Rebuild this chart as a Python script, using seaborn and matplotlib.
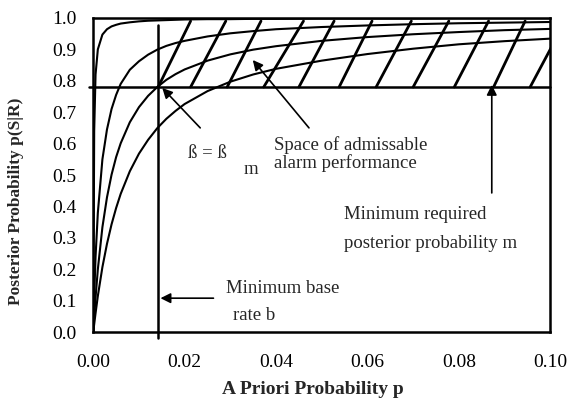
import matplotlib
matplotlib.use("Agg")
import matplotlib.pyplot as plt
import seaborn as sns
import pandas as pd

# ---- data ----
p_grid = [0.0, 0.0002, 0.0005, 0.001, 0.002, 0.003, 0.004, 0.005, 0.006, 0.008, 0.010,
          0.012, 0.014, 0.016, 0.018, 0.020, 0.025, 0.030, 0.035, 0.040,
          0.050, 0.060, 0.070, 0.080, 0.090, 0.100]
curve_1 = [0.0, 0.64, 0.82, 0.90, 0.947, 0.964, 0.973, 0.978, 0.982, 0.986, 0.989,
           0.991, 0.992, 0.993, 0.994, 0.995, 0.996, 0.996, 0.997, 0.997,
           0.998, 0.998, 0.998, 0.999, 0.999, 0.999]
curve_2 = [0.0, 0.11, 0.24, 0.38, 0.55, 0.645, 0.71, 0.755, 0.79, 0.835, 0.862,
           0.883, 0.899, 0.911, 0.920, 0.927, 0.941, 0.951, 0.958, 0.964,
           0.971, 0.976, 0.980, 0.983, 0.985, 0.987]
curve_3 = [0.0, 0.05, 0.11, 0.20, 0.334, 0.429, 0.501, 0.557, 0.601, 0.668, 0.716,
           0.752, 0.780, 0.803, 0.821, 0.836, 0.864, 0.884, 0.899, 0.910,
           0.927, 0.939, 0.948, 0.955, 0.961, 0.965]
curve_4 = [0.0, 0.025, 0.06, 0.115, 0.207, 0.281, 0.343, 0.395, 0.440, 0.512, 0.568,
           0.612, 0.649, 0.679, 0.704, 0.726, 0.767, 0.797, 0.820, 0.838,
           0.864, 0.885, 0.902, 0.916, 0.926, 0.934]

m_level = 0.78          # minimum required posterior probability
b_rate = 0.0142         # minimum base rate
hatch_bottom_p = [0.0142, 0.0213, 0.0293, 0.0373, 0.0450, 0.0538, 0.0619, 0.0700, 0.0790, 0.0876, 0.0956]
hatch_top_p = [0.0213, 0.0290, 0.0367, 0.0460, 0.0527, 0.0610, 0.0696, 0.0778, 0.0865, 0.0945, 0.1033]
hatch_top_v = 0.99

x_ticks = [0.00, 0.02, 0.04, 0.06, 0.08, 0.10]
x_tick_labels = ["0.00", "0.02", "0.04", "0.06", "0.08", "0.10"]
y_ticks = [0.0, 0.1, 0.2, 0.3, 0.4, 0.5, 0.6, 0.7, 0.8, 0.9, 1.0]
y_tick_labels = ["0.0", "0.1", "0.2", "0.3", "0.4", "0.5", "0.6", "0.7", "0.8", "0.9", "1.0"]

# ---- build long table ----
rows = []
for name, vals in [("c1", curve_1), ("c2", curve_2), ("c3", curve_3), ("c4", curve_4)]:
    for p, v in zip(p_grid, vals):
        rows.append({"p": p, "post": v, "curve": name})
df = pd.DataFrame(rows)

sns.set_theme(style="white")
plt.rcParams["font.family"] = ["Liberation Serif", "DejaVu Serif"]

fig = plt.figure(figsize=(5.67, 4.07), dpi=100)
ax = fig.add_axes([0.1645, 0.184, 0.806, 0.772])

sns.lineplot(data=df, x="p", y="post", hue="curve",
             palette=["black"] * 4, legend=False, ax=ax, linewidth=1.5,
             sort=False, estimator=None)

# threshold lines
ax.plot([b_rate, b_rate], [-0.02, 0.978], color="black", lw=1.8, clip_on=False)
ax.plot([-0.001, 0.1], [m_level, m_level], color="black", lw=1.8, clip_on=False)

# hatch of admissible region
for pb, pt in zip(hatch_bottom_p, hatch_top_p):
    ax.plot([pb, pt], [m_level, hatch_top_v], color="black", lw=2.0, clip_on=True)

ax.set_xlim(0, 0.10)
ax.set_ylim(0, 1.0)
ax.set_xticks(x_ticks)
ax.set_xticklabels(x_tick_labels)
ax.set_yticks(y_ticks)
ax.set_yticklabels(y_tick_labels)
ax.tick_params(axis="x", direction="in", length=3, width=1, pad=16, labelsize=14, colors="black")
ax.tick_params(axis="y", direction="in", length=3, width=1, pad=12, labelsize=14, colors="black")
for s in ax.spines.values():
    s.set_visible(True)
    s.set_color("black")
    s.set_linewidth(1.8)

ax.set_xlabel("A Priori Probability p", fontsize=14, fontweight="bold")
ax.set_ylabel("Posterior Probability p(S|R)", fontsize=12.5, fontweight="bold")
ax.xaxis.set_label_coords(0.481, -0.156)
ax.yaxis.set_label_coords(-0.152, 0.417)

arrow = dict(arrowstyle="-|>", color="black", lw=1.2, mutation_scale=15, shrinkA=0, shrinkB=0)
fs = 13.5
# beta = beta_m
ax.annotate("", xy=(0.0151, 0.777), xytext=(0.0234, 0.65), arrowprops=arrow)
ax.text(0.0208, 0.57, "ß = ß", fontsize=fs, va="center", ha="left")
ax.text(0.0328, 0.516, "m", fontsize=fs, va="center", ha="left")
# admissible space
ax.annotate("", xy=(0.0349, 0.866), xytext=(0.0472, 0.65), arrowprops=arrow)
ax.text(0.0395, 0.596, "Space of admissable", fontsize=fs, va="center", ha="left")
ax.text(0.0395, 0.538, "alarm performance", fontsize=fs, va="center", ha="left")
# minimum posterior
ax.annotate("", xy=(0.0872, 0.787), xytext=(0.0872, 0.443), arrowprops=arrow)
ax.text(0.0549, 0.373, "Minimum required", fontsize=fs, va="center", ha="left")
ax.text(0.0549, 0.283, "posterior probability m", fontsize=fs, va="center", ha="left")
# minimum base rate
ax.annotate("", xy=(0.0147, 0.108), xytext=(0.0263, 0.108), arrowprops=arrow)
ax.text(0.029, 0.14, "Minimum base", fontsize=fs, va="center", ha="left")
ax.text(0.0305, 0.054, "rate b", fontsize=fs, va="center", ha="left")

fig.savefig("out.png", dpi=100, facecolor="white")
